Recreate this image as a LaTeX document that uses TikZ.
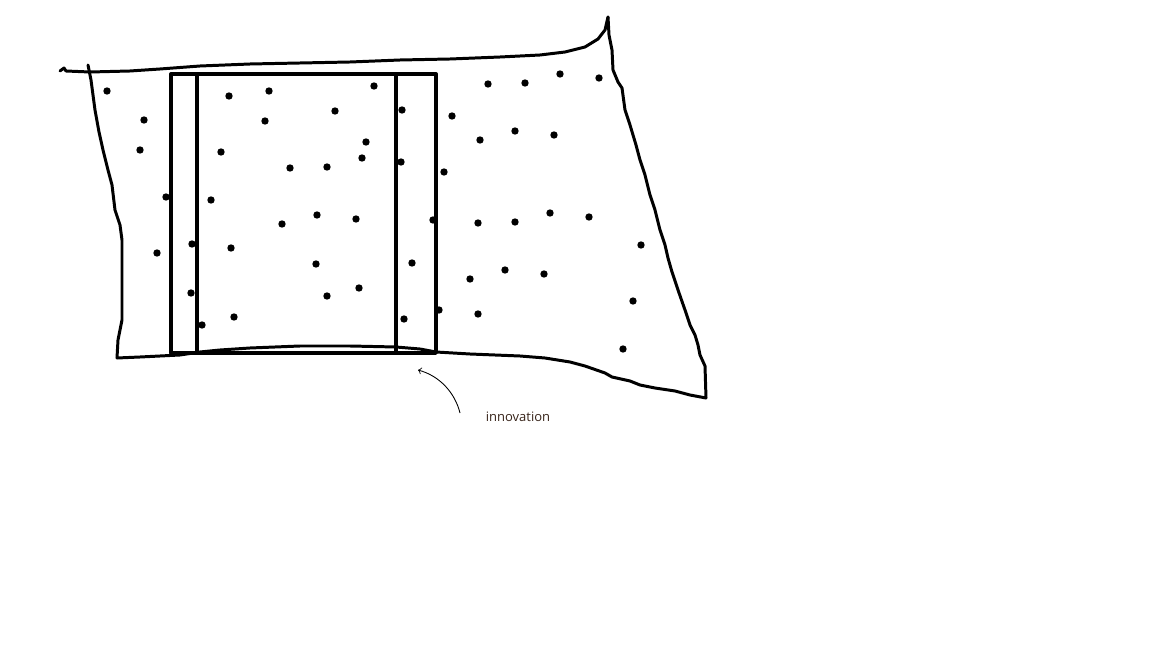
\documentclass[tikz,border=0pt]{standalone}
\usepackage{fontspec}
\setsansfont{Open Sans}
\begin{document}
\begin{tikzpicture}[x=0.02cm,y=-0.02cm,
  outline/.style={draw=black,line width=1.7pt,line join=round,line cap=round},
  dot/.style={circle,fill=black,inner sep=0pt,minimum size=4.2pt},
  pointer/.style={draw=black,line width=0.5pt,->}]
\useasboundingbox (0,0) rectangle (1152,648);

% the field
\draw[outline] (60,71) -- (64,68) -- (66,71) -- (90,72) -- (130,71) -- (160,69) -- (200,66)
  -- (250,64) -- (300,63) -- (350,62) -- (400,60) -- (450,59) -- (500,57) -- (540,55)
  -- (565,52) -- (585,47) -- (598,39) -- (605,30) -- (608,17);
\draw[outline] (608,17) -- (609,35) -- (612,50) -- (613,70) -- (618,82) -- (622,88)
  -- (625,110) -- (630,125) -- (636,145) -- (640,160) -- (645,175) -- (650,195)
  -- (655,210) -- (660,230) -- (665,245) -- (668,258) -- (672,272) -- (678,290)
  -- (685,310) -- (690,325) -- (695,335) -- (698,345) -- (700,355) -- (705,366)
  -- (706,398);
\draw[outline] (706,398) -- (690,395) -- (675,391) -- (655,388) -- (640,385) -- (630,381)
  -- (612,377) -- (605,373) -- (585,366) -- (570,362) -- (545,358) -- (520,356)
  -- (470,354) -- (436,352) -- (420,349) -- (396,347) -- (350,346) -- (300,346)
  -- (250,348) -- (220,350) -- (200,352) -- (180,355) -- (140,357) -- (117,358);
\draw[outline] (117,358) -- (118,340) -- (122,320) -- (122,285) -- (122,240) -- (120,225)
  -- (115,210) -- (112,185) -- (108,170) -- (103,150) -- (99,132) -- (95,110)
  -- (93,95) -- (91,80) -- (88,65);

% the box
\draw[outline,line width=1.9pt] (171,74) rectangle (436,353);
\draw[outline,line width=1.9pt] (197,74) -- (197,353);
\draw[outline,line width=1.9pt] (396,74) -- (396,353);

% the dots
\foreach \x/\y [count=\i] in {107/91, 144/120, 140/150, 166/197, 157/253, 192/244,
  191/293, 202/325, 229/96, 269/91, 265/121, 221/152, 211/200, 231/248, 234/317,
  335/111, 374/86, 366/142, 362/158, 327/167, 290/168, 282/224, 317/215, 356/219,
  316/264, 359/288, 327/296, 402/110, 401/162, 444/172, 452/116, 433/220, 412/263,
  404/319, 439/310, 478/314, 470/279, 505/270, 544/274, 478/223, 515/222, 550/213,
  589/217, 641/245, 633/301, 623/349, 480/140, 515/131, 554/135, 488/84, 525/83,
  560/74, 599/78}
  \node[dot] (d\i) at (\x,\y) {};

% label and its pointer
\node[text={rgb,255:red,55;green,35;blue,25},font=\sffamily\fontsize{7.4}{9}\selectfont] (innov) at (518,417) {innovation};
\coordinate (tail) at (460,413);
\coordinate (tip) at (418,370);
\draw[pointer] (tail) .. controls (455,393) and (440,376) .. (tip);
\end{tikzpicture}
\end{document}
